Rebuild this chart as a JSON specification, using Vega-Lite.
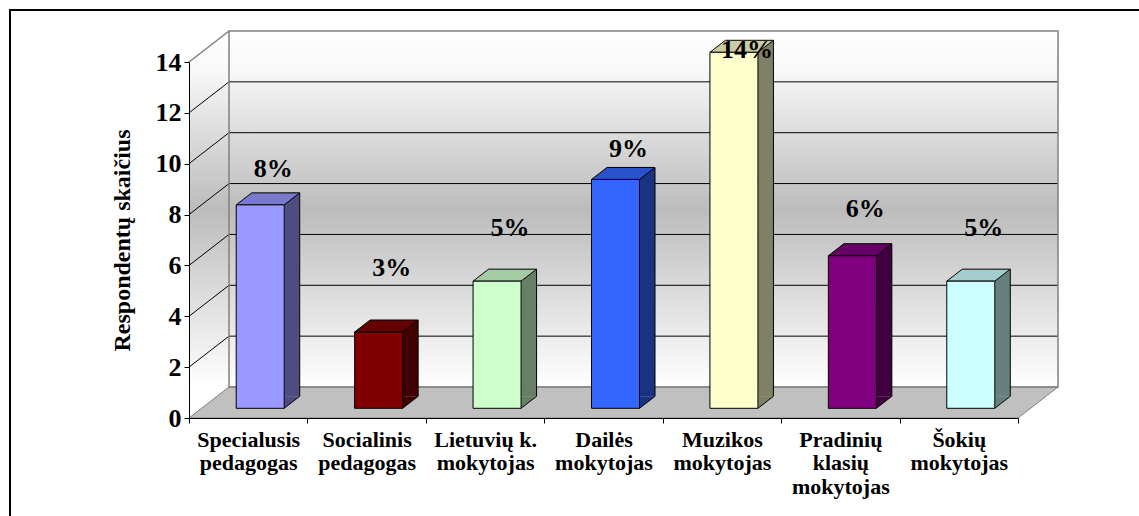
{
  "$schema": "https://vega.github.io/schema/vega-lite/v6.json",
  "width": 829,
  "height": 356,
  "autosize": {"type": "none"},
  "padding": {"left": 189, "top": 62, "right": 121, "bottom": 98},
  "background": "white",
  "config": {"view": {"stroke": null}, "font": "Liberation Serif"},
  "datasets": {
    "respondentai": [
      {"kategorija": "Specialusis pedagogas", "skaicius": 8, "dalis": "8%"},
      {"kategorija": "Socialinis pedagogas", "skaicius": 3, "dalis": "3%"},
      {"kategorija": "Lietuvių k. mokytojas", "skaicius": 5, "dalis": "5%"},
      {"kategorija": "Dailės mokytojas", "skaicius": 9, "dalis": "9%"},
      {"kategorija": "Muzikos mokytojas", "skaicius": 14, "dalis": "14%"},
      {"kategorija": "Pradinių klasių mokytojas", "skaicius": 6, "dalis": "6%"},
      {"kategorija": "Šokių mokytojas", "skaicius": 5, "dalis": "5%"}
    ],
    "tinklelis": [{"v": 2}, {"v": 4}, {"v": 6}, {"v": 8}, {"v": 10}, {"v": 12}],
    "vienas": [{"id": 1}]
  },
  "layer": [
    {
      "data": {"name": "vienas"},
      "mark": {"type": "rect", "x2Offset": 40, "yOffset": -31, "strokeWidth": 0, "opacity": 1,
        "fill": {"gradient": "linear", "x1": 0, "y1": 0, "x2": 0, "y2": 1,
          "stops": [
            {"offset": 0, "color": "#FFFFFF"},
            {"offset": 0.1, "color": "#F8F8F8"},
            {"offset": 0.46, "color": "#BCBCBC"},
            {"offset": 0.92, "color": "#FFFFFF"},
            {"offset": 1, "color": "#FFFFFF"}
          ]}},
      "encoding": {
        "x": {"datum": 0, "type": "quantitative", "scale": {"domain": [0, 7], "nice": false, "zero": false}, "axis": null},
        "x2": {"datum": 7},
        "y": {"datum": 14, "type": "quantitative", "scale": {"domain": [0, 14], "nice": false}, "axis": null},
        "y2": {"datum": 0}
      }
    },
    {
      "data": {"name": "vienas"},
      "mark": {"type": "point", "shape": "M0,0 L0,-32 L41,-32 L40,-31 Z", "size": 4, "filled": true, "fill": "white", "strokeWidth": 0, "opacity": 1},
      "encoding": {
        "x": {"datum": 0, "type": "quantitative", "scale": {"domain": [0, 7], "nice": false, "zero": false}, "axis": null},
        "y": {"datum": 14, "type": "quantitative", "scale": {"domain": [0, 14], "nice": false}, "axis": null}
      }
    },
    {
      "data": {"name": "vienas"},
      "mark": {"type": "point", "shape": "M0,0 L40,-31 L42,-31 L42,2 L0,2 Z", "size": 4, "filled": true, "fill": "white", "strokeWidth": 0, "opacity": 1},
      "encoding": {
        "x": {"datum": 7, "type": "quantitative", "scale": {"domain": [0, 7], "nice": false, "zero": false}, "axis": null},
        "y": {"datum": 0, "type": "quantitative", "scale": {"domain": [0, 14], "nice": false}, "axis": null}
      }
    },
    {
      "data": {"name": "vienas"},
      "mark": {"type": "point", "shape": "M0,0 L40,-31 L869,-31 L829,0 Z", "size": 4, "filled": true, "fill": "#C0C0C0", "stroke": "#808080", "strokeWidth": 1, "opacity": 1},
      "encoding": {
        "x": {"datum": 0, "type": "quantitative", "scale": {"domain": [0, 7], "nice": false, "zero": false}, "axis": null},
        "y": {"datum": 0, "type": "quantitative", "scale": {"domain": [0, 14], "nice": false}, "axis": null}
      }
    },
    {
      "data": {"name": "tinklelis"},
      "mark": {"type": "rule", "xOffset": 40, "x2Offset": 40, "yOffset": -31, "color": "black", "strokeWidth": 1, "opacity": 1},
      "encoding": {
        "x": {"datum": 0, "type": "quantitative", "scale": {"domain": [0, 7], "nice": false, "zero": false}, "axis": null},
        "x2": {"datum": 7},
        "y": {"field": "v", "type": "quantitative", "scale": {"domain": [0, 14], "nice": false}, "axis": null}
      }
    },
    {
      "data": {"name": "tinklelis"},
      "mark": {"type": "rule", "x2Offset": 40, "y2Offset": -31, "color": "black", "strokeWidth": 1, "opacity": 1},
      "encoding": {
        "x": {"datum": 0, "type": "quantitative", "scale": {"domain": [0, 7], "nice": false, "zero": false}, "axis": null},
        "x2": {"datum": 0},
        "y": {"field": "v", "type": "quantitative", "scale": {"domain": [0, 14], "nice": false}, "axis": null},
        "y2": {"field": "v"}
      }
    },
    {
      "data": {"name": "vienas"},
      "mark": {"type": "rect", "xOffset": 40, "x2Offset": 40, "yOffset": -31, "y2Offset": -31, "fill": "transparent", "stroke": "#808080", "strokeWidth": 1.5, "opacity": 1},
      "encoding": {
        "x": {"datum": 0, "type": "quantitative", "scale": {"domain": [0, 7], "nice": false, "zero": false}, "axis": null},
        "x2": {"datum": 7},
        "y": {"datum": 14, "type": "quantitative", "scale": {"domain": [0, 14], "nice": false}, "axis": null},
        "y2": {"datum": 0}
      }
    },
    {
      "data": {"name": "vienas"},
      "mark": {"type": "rule", "x2Offset": 40, "y2Offset": -31, "color": "#808080", "strokeWidth": 1.5, "opacity": 1},
      "encoding": {
        "x": {"datum": 0, "type": "quantitative", "scale": {"domain": [0, 7], "nice": false, "zero": false}, "axis": null},
        "x2": {"datum": 0},
        "y": {"datum": 14, "type": "quantitative", "scale": {"domain": [0, 14], "nice": false}, "axis": null},
        "y2": {"datum": 14}
      }
    },
    {
      "data": {"name": "respondentai"},
      "mark": {"type": "bar", "width": 15.5, "xOffset": 43.75, "yOffset": -21.7, "y2Offset": -21.7, "strokeWidth": 0, "opacity": 1},
      "encoding": {
        "x": {"field": "kategorija", "type": "nominal", "scale": {"domain": ["Specialusis pedagogas", "Socialinis pedagogas", "Lietuvių k. mokytojas", "Dailės mokytojas", "Muzikos mokytojas", "Pradinių klasių mokytojas", "Šokių mokytojas"], "paddingInner": 0, "paddingOuter": 0}, "axis": null},
        "y": {"field": "skaicius", "type": "quantitative", "scale": {"domain": [0, 14], "nice": false}, "axis": null},
        "y2": {"datum": 0},
        "color": {"field": "kategorija", "type": "nominal", "scale": {"domain": ["Specialusis pedagogas", "Socialinis pedagogas", "Lietuvių k. mokytojas", "Dailės mokytojas", "Muzikos mokytojas", "Pradinių klasių mokytojas", "Šokių mokytojas"], "range": ["#4D4D80", "#400000", "#668066", "#1A3380", "#808066", "#400040", "#668080"]}, "legend": null}
      }
    },
    {
      "data": {"name": "respondentai"},
      "mark": {"type": "point", "shape": "M0,0 L0,-12 L15.5,-12 Z", "size": 4, "filled": true, "strokeWidth": 0, "xOffset": 36, "yOffset": -9.7, "opacity": 1},
      "encoding": {
        "x": {"field": "kategorija", "type": "nominal", "scale": {"domain": ["Specialusis pedagogas", "Socialinis pedagogas", "Lietuvių k. mokytojas", "Dailės mokytojas", "Muzikos mokytojas", "Pradinių klasių mokytojas", "Šokių mokytojas"], "paddingInner": 0, "paddingOuter": 0}, "axis": null},
        "y": {"datum": 0, "type": "quantitative", "scale": {"domain": [0, 14], "nice": false}, "axis": null},
        "color": {"field": "kategorija", "type": "nominal", "scale": {"domain": ["Specialusis pedagogas", "Socialinis pedagogas", "Lietuvių k. mokytojas", "Dailės mokytojas", "Muzikos mokytojas", "Pradinių klasių mokytojas", "Šokių mokytojas"], "range": ["#4D4D80", "#400000", "#668066", "#1A3380", "#808066", "#400040", "#668080"]}, "legend": null}
      }
    },
    {
      "data": {"name": "respondentai"},
      "mark": {"type": "point", "shape": "M0,0 L48,0 L63.5,-12 L15.5,-12 Z", "size": 4, "filled": true, "stroke": "black", "strokeWidth": 1, "xOffset": -12, "yOffset": -9.7, "opacity": 1},
      "encoding": {
        "x": {"field": "kategorija", "type": "nominal", "scale": {"domain": ["Specialusis pedagogas", "Socialinis pedagogas", "Lietuvių k. mokytojas", "Dailės mokytojas", "Muzikos mokytojas", "Pradinių klasių mokytojas", "Šokių mokytojas"], "paddingInner": 0, "paddingOuter": 0}, "axis": null},
        "y": {"field": "skaicius", "type": "quantitative", "scale": {"domain": [0, 14], "nice": false}, "axis": null},
        "color": {"field": "kategorija", "type": "nominal", "scale": {"domain": ["Specialusis pedagogas", "Socialinis pedagogas", "Lietuvių k. mokytojas", "Dailės mokytojas", "Muzikos mokytojas", "Pradinių klasių mokytojas", "Šokių mokytojas"], "range": ["#7A7ACC", "#660000", "#A3CCA3", "#2952CC", "#CCCCA3", "#660066", "#A3CCCC"]}, "legend": null}
      }
    },
    {
      "data": {"name": "respondentai"},
      "mark": {"type": "rule", "xOffset": 51.5, "yOffset": -21.7, "y2Offset": -21.7, "color": "black", "strokeWidth": 1, "opacity": 1},
      "encoding": {
        "x": {"field": "kategorija", "type": "nominal", "scale": {"domain": ["Specialusis pedagogas", "Socialinis pedagogas", "Lietuvių k. mokytojas", "Dailės mokytojas", "Muzikos mokytojas", "Pradinių klasių mokytojas", "Šokių mokytojas"], "paddingInner": 0, "paddingOuter": 0}, "axis": null},
        "y": {"field": "skaicius", "type": "quantitative", "scale": {"domain": [0, 14], "nice": false}, "axis": null},
        "y2": {"datum": 0}
      }
    },
    {
      "data": {"name": "respondentai"},
      "mark": {"type": "point", "shape": "M0,0 L15.5,-12", "size": 4, "filled": false, "color": "black", "strokeWidth": 1, "xOffset": 36, "yOffset": -9.7, "opacity": 1},
      "encoding": {
        "x": {"field": "kategorija", "type": "nominal", "scale": {"domain": ["Specialusis pedagogas", "Socialinis pedagogas", "Lietuvių k. mokytojas", "Dailės mokytojas", "Muzikos mokytojas", "Pradinių klasių mokytojas", "Šokių mokytojas"], "paddingInner": 0, "paddingOuter": 0}, "axis": null},
        "y": {"datum": 0, "type": "quantitative", "scale": {"domain": [0, 14], "nice": false}, "axis": null}
      }
    },
    {
      "data": {"name": "respondentai"},
      "mark": {"type": "bar", "width": 48, "xOffset": 12, "yOffset": -9.7, "y2Offset": -9.7, "stroke": "black", "strokeWidth": 1, "opacity": 1},
      "encoding": {
        "x": {"field": "kategorija", "type": "nominal", "scale": {"domain": ["Specialusis pedagogas", "Socialinis pedagogas", "Lietuvių k. mokytojas", "Dailės mokytojas", "Muzikos mokytojas", "Pradinių klasių mokytojas", "Šokių mokytojas"], "paddingInner": 0, "paddingOuter": 0},
          "axis": {"title": null, "zindex": 1, "tickBand": "extent", "labelAngle": 0, "labelOverlap": false, "labelExpr": "datum.label == 'Lietuvių k. mokytojas' ? ['Lietuvių k.', 'mokytojas'] : split(datum.label, ' ')", "labelFont": "Liberation Serif", "labelFontSize": 22, "labelFontWeight": "bold", "labelColor": "black", "labelLineHeight": 23.5, "labelPadding": 6, "labelBaseline": "top", "tickSize": 5, "tickColor": "black", "domainColor": "black", "domainWidth": 1, "labelLimit": 200}},
        "y": {"field": "skaicius", "type": "quantitative", "scale": {"domain": [0, 14], "nice": false},
          "axis": {"title": "Respondentų skaičius", "zindex": 1, "values": [0, 2, 4, 6, 8, 10, 12, 14], "grid": false, "titleFont": "Liberation Serif", "titleFontSize": 24, "titleFontWeight": "bold", "titleColor": "black", "titlePadding": 21, "labelFont": "Liberation Serif", "labelFontSize": 26, "labelFontWeight": "bold", "labelColor": "black", "labelPadding": 3, "tickSize": 5, "tickColor": "black", "domainColor": "black", "domainWidth": 1}},
        "y2": {"datum": 0},
        "color": {"field": "kategorija", "type": "nominal", "scale": {"domain": ["Specialusis pedagogas", "Socialinis pedagogas", "Lietuvių k. mokytojas", "Dailės mokytojas", "Muzikos mokytojas", "Pradinių klasių mokytojas", "Šokių mokytojas"], "range": ["#9999FF", "#800000", "#CCFFCC", "#3366FF", "#FFFFCC", "#800080", "#CCFFFF"]}, "legend": null}
      }
    },
    {
      "data": {"name": "respondentai"},
      "mark": {"type": "text", "xOffset": 25, "font": "Liberation Serif", "fontSize": 26, "fontWeight": "bold", "color": "black", "align": "center", "baseline": "middle", "opacity": 1},
      "encoding": {
        "x": {"field": "kategorija", "type": "nominal", "scale": {"domain": ["Specialusis pedagogas", "Socialinis pedagogas", "Lietuvių k. mokytojas", "Dailės mokytojas", "Muzikos mokytojas", "Pradinių klasių mokytojas", "Šokių mokytojas"], "paddingInner": 0, "paddingOuter": 0}, "axis": null},
        "y": {"field": "skaicius", "type": "quantitative", "scale": {"domain": [0, 14], "nice": false, "range": [265.8, -12.4]}, "axis": null},
        "text": {"field": "dalis"}
      }
    },
    {
      "data": {"name": "vienas"},
      "mark": {"type": "rect", "xOffset": -179, "x2Offset": 300, "yOffset": -52, "y2Offset": 300, "fill": "transparent", "stroke": "black", "strokeWidth": 2, "opacity": 1},
      "encoding": {
        "x": {"datum": 0, "type": "quantitative", "scale": {"domain": [0, 7], "nice": false, "zero": false}, "axis": null},
        "x2": {"datum": 7},
        "y": {"datum": 14, "type": "quantitative", "scale": {"domain": [0, 14], "nice": false}, "axis": null},
        "y2": {"datum": 0}
      }
    }
  ],
  "resolve": {
    "scale": {"x": "independent", "y": "independent", "color": "independent"},
    "axis": {"x": "independent", "y": "independent"}
  }
}
